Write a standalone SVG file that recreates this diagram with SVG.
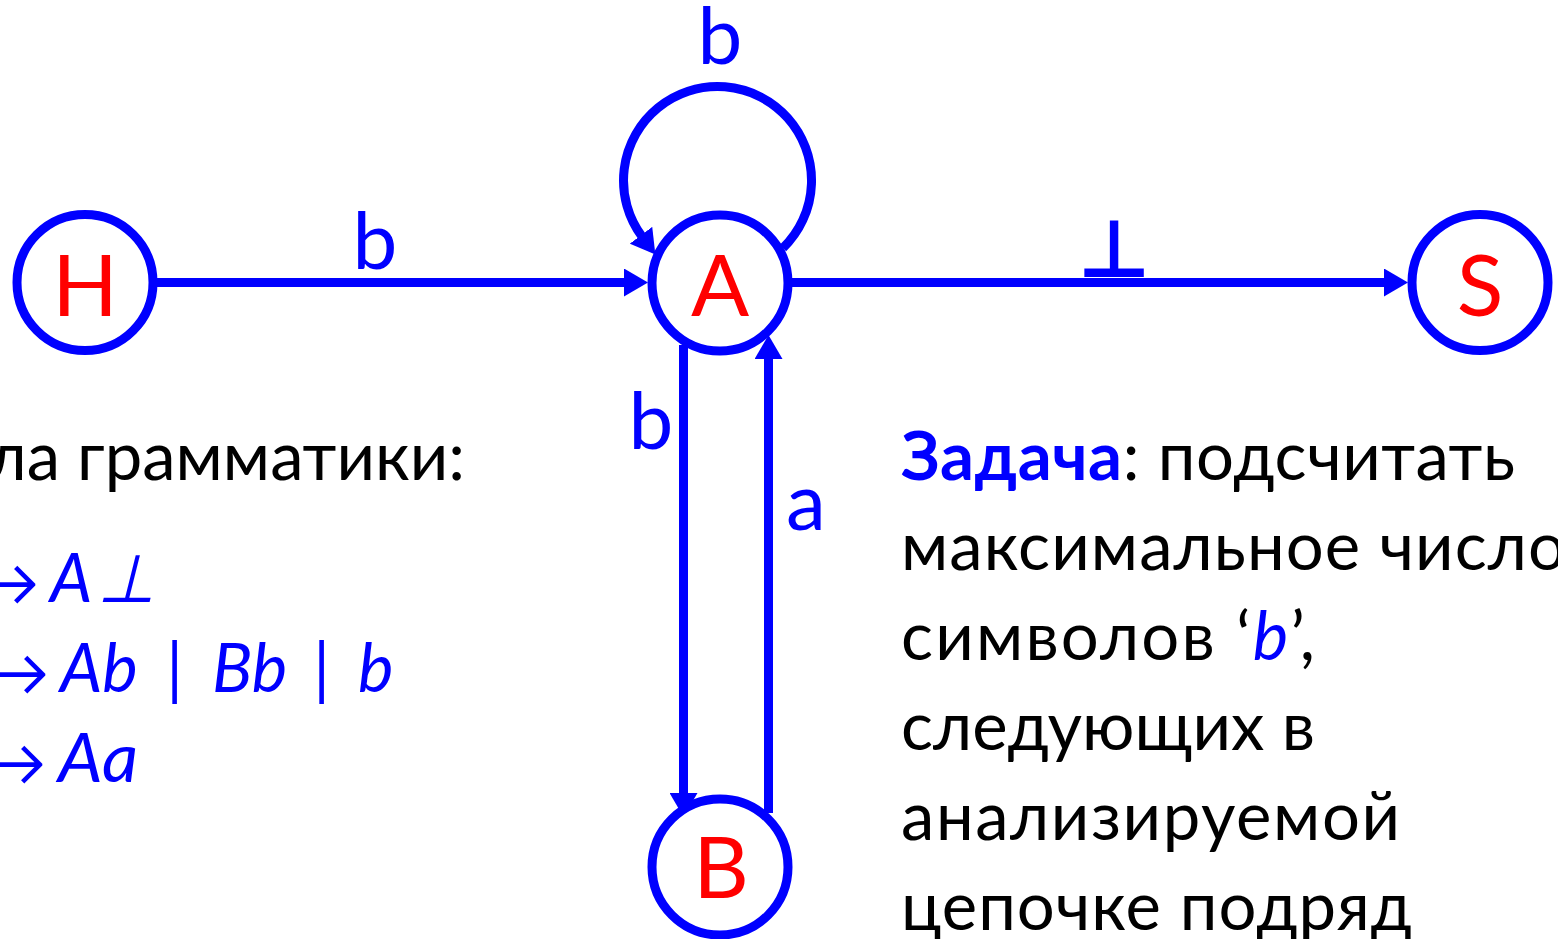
<svg xmlns="http://www.w3.org/2000/svg" width="1558" height="939" viewBox="0 0 1558 939">
  <style>
    .state { fill: #ffffff; stroke: #0000ff; stroke-width: 9; }
    .state-name { font-family: Lato, "Liberation Sans", sans-serif; font-size: 86px; fill: #ff0000; text-anchor: middle; }
    .edge { fill: none; stroke: #0000ff; stroke-width: 9; marker-end: url(#arrow); }
    .edge-label { font-family: Lato, "Liberation Sans", sans-serif; font-size: 80px; fill: #0000ff; text-anchor: middle; }
    .body { font-family: Lato, "Liberation Sans", sans-serif; font-size: 67px; fill: #000000; }
    .rule { font-family: Lato, "DejaVu Sans", sans-serif; font-size: 67px; font-style: italic; fill: #0000ff; }
    .rule-arrow { font-family: "DejaVu Sans", sans-serif; font-weight: 200; font-size: 94px; fill: #0000ff; text-anchor: end; }
    .blue { fill: #0000ff; }
    .bold { font-weight: bold; }
    .sym { font-family: "DejaVu Sans", sans-serif; }
  </style>
  <defs>
    <marker id="arrow" markerUnits="userSpaceOnUse" viewBox="0 0 24 28" markerWidth="24" markerHeight="28" refX="2" refY="14" orient="auto">
      <path d="M0,0 L24,14 L0,28 Z" fill="#0000ff"/>
    </marker>
  </defs>

  <!-- transitions -->
  <g id="connectors">
    <path class="edge" d="M153,282.5 H626"/>
    <path class="edge" d="M792,282.5 H1386"/>
    <path class="edge" d="M683.5,345 V795"/>
    <path class="edge" d="M768.5,813 V357"/>
    <path class="edge" d="M783,248 A94,94 0 1 0 642.2,236.8"/>
    <text class="edge-label" x="375" y="269">b</text>
    <text class="edge-label" x="720" y="64">b</text>
    <text class="edge-label" x="651" y="449">b</text>
    <text class="edge-label" x="806" y="530">a</text>
    <text class="edge-label sym" x="1114" y="277" font-size="66px" font-weight="bold">⊥</text>
  </g>

  <!-- states -->
  <g id="node-H">
    <circle class="state" cx="85" cy="282.5" r="68"/>
    <text class="state-name" x="85" y="316">H</text>
  </g>
  <g id="node-A">
    <circle class="state" cx="720" cy="283" r="68"/>
    <text class="state-name" x="720" y="316">A</text>
  </g>
  <g id="node-S">
    <circle class="state" cx="1480" cy="282.5" r="68"/>
    <text class="state-name" x="1480" y="316">S</text>
  </g>
  <g id="node-B">
    <circle class="state" cx="720" cy="867" r="68"/>
    <text class="state-name" x="721" y="898">B</text>
  </g>

  <!-- grammar rules -->
  <g id="grammar">
    <text class="body" x="465" y="480" text-anchor="end">ла грамматики:</text>

    <text class="rule-arrow" x="40" y="614">→</text>
    <text class="rule" x="50" y="602">A</text>
    <text class="rule sym" x="97" y="602" transform="skewX(-14) translate(150,0)">⊥</text>

    <text class="rule-arrow" x="50" y="704">→</text>
    <text class="rule" y="692"><tspan x="60">Ab</tspan><tspan x="166">|</tspan><tspan x="212">Bb</tspan><tspan x="313">|</tspan><tspan x="358">b</tspan></text>

    <text class="rule-arrow" x="47" y="794">→</text>
    <text class="rule" x="58" y="782" textLength="80" lengthAdjust="spacingAndGlyphs">Aa</text>
  </g>

  <!-- task statement -->
  <g id="task">
    <text class="body" x="901" y="480" textLength="614" lengthAdjust="spacing"><tspan class="blue bold">Задача</tspan>: подсчитать</text>
    <text class="body" x="901" y="570" textLength="665" lengthAdjust="spacing">максимальное число</text>
    <text class="body" x="901" y="660" textLength="414" lengthAdjust="spacing">символов ‘<tspan class="blue" font-style="italic">b</tspan>’,</text>
    <text class="body" x="901" y="750" textLength="414" lengthAdjust="spacing">следующих в</text>
    <text class="body" x="901" y="840" textLength="499" lengthAdjust="spacing">анализируемой</text>
    <text class="body" x="901" y="930" textLength="511" lengthAdjust="spacing">цепочке подряд</text>
  </g>
</svg>
